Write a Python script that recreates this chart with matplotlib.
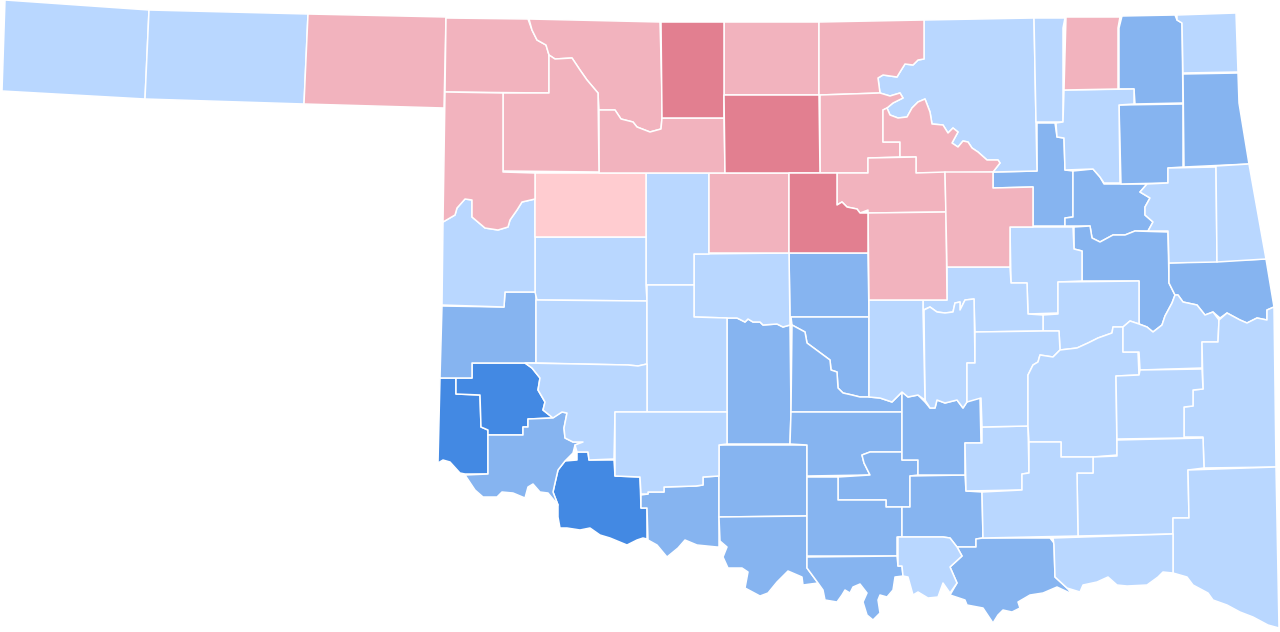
"""Oklahoma county map, shaded by margin class."""
import matplotlib
matplotlib.use("Agg")
import matplotlib.pyplot as plt
from matplotlib.patches import Polygon

# county outlines, in the picture's pixel space
OUTLINES = {
    "Cimarron": [(5,0),(149,10),(145,99),(2,91)],
    "Texas": [(149,10),(308,14),(304,104),(145,99)],
    "Beaver": [(308,14),(446,17),(444,108),(304,104)],
    "Harper": [(446,18),(528,19),(532,30),(537,40),(546,45),(549,55),(549,93),(445,92)],
    "Woods": [(529,19),(660,22),(662,95),(662,118),(661,129),(650,132),(637,127),(633,122),(621,119),(615,110),(599,110),(598,93),(587,80),(580,70),(572,58),(555,59),(549,55),(546,45),(537,40),(532,30)],
    "Alfalfa": [(661,22),(724,22),(724,95),(724,118),(662,118)],
    "Grant": [(724,22),(819,22),(819,95),(724,95)],
    "Kay": [(819,22),(924,20),(924,59),(918,60),(913,65),(905,64),(900,72),(897,77),(883,75),(878,78),(880,93),(819,95)],
    "Osage": [(924,20),(1034,18),(1036,122),(1037,171),(993,172),(1000,163),(998,160),(987,160),(978,152),(972,148),(968,142),(963,141),(958,147),(952,143),(958,132),(953,128),(948,133),(943,125),(932,124),(930,112),(925,99),(918,102),(912,108),(907,117),(898,118),(890,115),(887,108),(893,103),(903,98),(900,93),(890,96),(880,93),(878,78),(883,75),(897,77),(900,72),(905,64),(913,65),(918,60),(924,59)],
    "Noble": [(820,95),(880,93),(890,96),(900,93),(903,98),(893,103),(887,108),(883,110),(883,142),(900,142),(900,157),(868,158),(868,173),(820,173)],
    "Pawnee": [(883,110),(887,108),(890,115),(898,118),(907,117),(912,108),(918,102),(925,99),(930,112),(932,124),(943,125),(948,133),(953,128),(958,132),(952,143),(958,147),(963,141),(968,142),(972,148),(978,152),(987,160),(998,160),(1000,163),(993,172),(945,173),(916,173),(916,157),(900,157),(900,142),(883,142)],
    "Payne": [(837,173),(868,173),(868,158),(916,157),(916,173),(945,172),(946,212),(868,213),(868,210),(860,213),(857,209),(847,207),(842,202),(837,205)],
    "Logan": [(789,173),(837,173),(837,205),(842,202),(847,207),(857,209),(860,213),(868,213),(868,253),(789,253)],
    "Lincoln": [(868,213),(946,212),(947,300),(869,300)],
    "Creek": [(945,172),(993,172),(993,188),(1033,187),(1033,227),(1010,227),(1010,267),(947,267)],
    "Tulsa": [(993,172),(1037,171),(1037,123),(1055,123),(1057,137),(1064,138),(1065,170),(1073,171),(1073,217),(1065,218),(1065,226),(1033,226),(1033,187),(993,188)],
    "Washington": [(1034,18),(1065,18),(1063,28),(1063,122),(1036,122)],
    "Nowata": [(1066,17),(1120,17),(1118,28),(1118,89),(1064,90)],
    "Rogers": [(1064,90),(1134,89),(1134,104),(1119,105),(1120,183),(1104,183),(1100,177),(1093,169),(1065,170),(1064,138),(1057,137),(1056,123),(1063,122)],
    "Craig": [(1122,16),(1175,15),(1177,20),(1182,23),(1183,103),(1135,104),(1134,89),(1119,89),(1119,28)],
    "Ottawa": [(1177,15),(1236,13),(1238,72),(1183,73),(1182,23),(1177,20)],
    "Delaware": [(1183,74),(1238,73),(1239,103),(1249,164),(1184,167)],
    "Mayes": [(1119,105),(1183,104),(1183,167),(1168,168),(1168,183),(1121,184)],
    "Wagoner": [(1073,171),(1093,169),(1100,177),(1104,184),(1147,184),(1140,192),(1150,198),(1145,207),(1145,215),(1153,222),(1148,231),(1135,231),(1125,235),(1113,235),(1100,242),(1092,238),(1090,226),(1065,226),(1065,218),(1073,217)],
    "Cherokee": [(1168,168),(1216,167),(1217,262),(1169,263),(1168,231),(1148,231),(1153,222),(1145,215),(1145,207),(1150,198),(1140,192),(1147,184),(1168,183)],
    "Adair": [(1216,166),(1249,164),(1266,259),(1217,262)],
    "Sequoyah": [(1169,263),(1266,259),(1274,307),(1267,310),(1267,320),(1257,318),(1247,323),(1240,320),(1227,313),(1220,318),(1213,312),(1205,315),(1197,305),(1183,302),(1178,295),(1175,295),(1169,283)],
    "Muskogee": [(1074,227),(1090,226),(1092,238),(1100,242),(1113,235),(1125,235),(1135,231),(1168,232),(1169,283),(1175,295),(1172,303),(1165,316),(1162,325),(1153,332),(1147,327),(1139,324),(1139,281),(1082,281),(1082,251),(1074,249)],
    "Okmulgee": [(1010,227),(1073,227),(1074,249),(1082,251),(1082,281),(1058,282),(1058,313),(1028,314),(1027,283),(1011,283)],
    "McIntosh": [(1058,282),(1139,281),(1139,324),(1130,321),(1123,327),(1113,327),(1112,333),(1098,338),(1088,343),(1077,348),(1060,350),(1059,331),(1043,331),(1043,315),(1058,314)],
    "Okfuskee": [(947,267),(1010,267),(1011,283),(1027,283),(1028,314),(1043,315),(1043,331),(975,332),(974,299),(965,300),(960,310),(960,302),(955,303),(953,312),(945,313),(937,312),(930,307),(923,310),(923,300),(947,300)],
    "Seminole": [(924,310),(930,307),(937,312),(945,313),(953,312),(955,303),(960,302),(960,310),(965,300),(974,299),(975,363),(967,363),(967,402),(963,408),(957,400),(945,403),(937,400),(935,408),(930,408),(925,400)],
    "Pottawatomie": [(869,300),(923,300),(923,310),(925,400),(918,395),(908,397),(902,392),(892,402),(880,398),(869,397)],
    "Oklahoma": [(789,253),(868,253),(869,317),(790,317)],
    "Cleveland": [(791,317),(869,317),(869,397),(860,397),(852,395),(843,393),(838,388),(837,372),(831,370),(830,360),(807,343),(805,332),(792,325)],
    "McClain": [(792,325),(805,332),(807,343),(830,360),(831,370),(837,372),(838,388),(843,393),(852,395),(860,397),(869,397),(880,398),(892,402),(902,392),(902,412),(791,412)],
    "Grady": [(727,318),(737,318),(745,322),(748,319),(753,322),(760,322),(763,325),(777,324),(783,327),(790,325),(791,412),(790,444),(727,444)],
    "Canadian": [(694,254),(789,253),(790,325),(783,327),(777,324),(763,325),(760,322),(753,322),(748,319),(745,322),(737,318),(727,318),(694,317)],
    "Kingfisher": [(709,173),(789,173),(789,253),(709,253)],
    "Blaine": [(646,173),(709,173),(709,254),(694,254),(694,285),(646,285)],
    "Dewey": [(535,173),(646,173),(646,237),(535,237)],
    "Major": [(599,110),(615,110),(621,119),(633,122),(637,127),(650,132),(661,129),(662,118),(724,118),(725,173),(599,173)],
    "Garfield": [(724,95),(819,95),(820,173),(725,173)],
    "Woodward": [(503,93),(549,93),(549,55),(555,59),(572,58),(580,70),(587,80),(598,93),(599,172),(503,171)],
    "Ellis": [(445,92),(503,93),(503,172),(535,173),(535,199),(522,202),(517,210),(510,220),(508,227),(498,230),(485,228),(472,217),(472,200),(465,199),(457,208),(455,215),(443,222)],
    "Roger Mills": [(443,222),(455,215),(457,208),(465,199),(472,200),(472,217),(485,228),(498,230),(508,227),(510,220),(517,210),(522,202),(535,199),(535,292),(505,292),(504,307),(442,305)],
    "Custer": [(535,237),(646,237),(646,285),(647,301),(537,300),(535,292)],
    "Washita": [(536,300),(647,301),(647,364),(638,366),(628,365),(536,363)],
    "Caddo": [(647,285),(694,285),(694,317),(727,318),(727,412),(647,412)],
    "Kiowa": [(525,363),(628,365),(638,366),(647,364),(647,412),(615,412),(614,459),(589,460),(588,452),(577,452),(575,445),(583,442),(573,442),(565,438),(564,428),(567,413),(562,412),(553,418),(543,410),(545,402),(538,390),(540,378),(532,368)],
    "Jackson": [(488,435),(523,435),(523,427),(528,427),(528,419),(552,418),(562,412),(567,413),(564,428),(565,438),(573,442),(583,442),(575,445),(573,453),(565,461),(558,470),(555,483),(553,492),(558,505),(548,493),(540,492),(533,484),(528,487),(525,498),(513,493),(502,492),(497,497),(483,497),(475,490),(465,475),(488,474)],
    "Greer": [(472,363),(525,363),(532,368),(540,378),(538,390),(545,402),(543,410),(553,418),(528,419),(528,427),(523,427),(523,435),(488,435),(488,430),(481,427),(480,395),(456,394),(456,378),(472,378)],
    "Harmon": [(440,378),(456,378),(456,394),(480,395),(481,427),(488,430),(488,474),(465,474),(460,473),(450,462),(443,460),(438,463)],
    "Beckham": [(442,306),(504,307),(505,292),(536,292),(536,363),(472,363),(472,378),(440,378)],
    "Tillman": [(577,452),(588,452),(589,460),(614,460),(615,476),(640,477),(641,508),(647,508),(647,539),(643,538),(637,540),(627,545),(610,538),(600,535),(590,528),(580,530),(567,528),(560,528),(558,517),(558,505),(553,492),(555,483),(558,470),(565,461),(577,460)],
    "Comanche": [(615,412),(727,412),(727,444),(719,445),(719,476),(703,477),(703,485),(696,486),(664,487),(664,492),(648,492),(648,494),(641,494),(640,477),(615,476)],
    "Cotton": [(641,495),(648,494),(648,492),(664,492),(664,487),(696,486),(703,485),(703,477),(719,476),(719,517),(719,547),(717,547),(707,546),(697,545),(685,540),(678,548),(667,557),(657,545),(648,540),(647,508),(641,508)],
    "Stephens": [(719,445),(807,445),(807,516),(719,517)],
    "Jefferson": [(719,517),(807,516),(807,568),(818,583),(803,585),(802,577),(788,571),(777,582),(768,593),(760,596),(745,588),(748,572),(742,568),(728,568),(723,557),(727,547),(720,541)],
    "Garvin": [(791,412),(902,412),(902,452),(870,452),(862,455),(864,463),(870,475),(807,476),(807,445),(790,444)],
    "Murray": [(870,452),(902,452),(902,460),(918,460),(918,475),(910,476),(910,507),(886,507),(886,500),(838,500),(838,477),(870,475),(864,463),(862,455)],
    "Carter": [(807,477),(838,477),(838,500),(886,500),(886,507),(902,507),(902,537),(897,537),(897,556),(807,556)],
    "Johnston": [(910,476),(965,475),(966,491),(982,492),(983,538),(976,539),(976,547),(957,547),(950,538),(943,537),(902,537),(902,507),(910,507)],
    "Pontotoc": [(902,392),(908,397),(918,395),(925,402),(930,408),(935,408),(937,400),(945,403),(957,400),(963,408),(968,400),(980,397),(981,443),(965,443),(965,475),(918,475),(918,460),(902,460)],
    "Coal": [(965,443),(982,443),(982,427),(1028,426),(1029,473),(1022,474),(1022,490),(966,491)],
    "Hughes": [(975,332),(1043,331),(1059,331),(1060,350),(1053,357),(1040,355),(1038,362),(1033,365),(1028,375),(1028,426),(982,427),(981,398),(967,402),(967,363),(975,363)],
    "Pittsburg": [(1028,375),(1033,365),(1038,362),(1040,355),(1053,357),(1060,350),(1077,348),(1088,343),(1098,338),(1112,333),(1113,327),(1123,327),(1123,352),(1138,352),(1139,375),(1116,376),(1117,455),(1093,457),(1061,457),(1061,442),(1029,442),(1028,426)],
    "Haskell": [(1123,327),(1130,321),(1139,324),(1147,327),(1153,332),(1162,325),(1165,316),(1172,303),(1175,295),(1178,295),(1183,302),(1197,305),(1205,315),(1213,312),(1219,320),(1218,342),(1202,342),(1202,368),(1140,370),(1139,352),(1123,352)],
    "Le Flore": [(1274,307),(1276,467),(1204,468),(1203,437),(1184,437),(1184,407),(1193,406),(1193,390),(1203,389),(1202,342),(1218,342),(1219,320),(1227,313),(1240,320),(1247,323),(1257,318),(1267,320),(1267,310)],
    "Latimer": [(1140,370),(1202,369),(1203,389),(1193,390),(1193,406),(1184,407),(1184,438),(1117,439),(1116,376),(1139,375)],
    "Pushmataha": [(1117,440),(1203,438),(1204,468),(1188,470),(1189,518),(1173,518),(1173,534),(1078,536),(1077,473),(1093,473),(1093,457),(1117,456)],
    "Atoka": [(1029,442),(1061,442),(1061,457),(1093,457),(1093,473),(1077,473),(1078,536),(983,538),(982,492),(1022,490),(1022,474),(1029,473)],
    "McCurtain": [(1188,470),(1276,467),(1279,628),(1268,625),(1253,617),(1240,612),(1227,605),(1213,600),(1208,593),(1193,585),(1187,577),(1173,573),(1173,518),(1189,518)],
    "Choctaw": [(1053,538),(1173,534),(1173,573),(1163,572),(1158,577),(1147,585),(1127,586),(1117,585),(1108,577),(1097,582),(1083,585),(1080,592),(1067,588),(1055,577),(1054,545)],
    "Bryan": [(976,539),(983,538),(1050,538),(1054,543),(1055,577),(1067,588),(1072,594),(1057,587),(1043,593),(1030,595),(1018,602),(1020,608),(1012,612),(1003,610),(998,615),(993,623),(983,608),(967,605),(965,600),(950,595),(957,583),(950,567),(962,556),(957,547),(976,547)],
    "Marshall": [(898,537),(943,537),(950,538),(957,547),(962,556),(950,567),(957,583),(950,593),(943,583),(938,597),(928,598),(918,592),(913,595),(908,577),(903,576),(902,566),(898,566)],
    "Love": [(807,557),(897,556),(898,566),(902,566),(903,576),(895,577),(893,590),(887,597),(880,595),(878,600),(880,613),(873,620),(867,615),(863,602),(867,593),(860,584),(853,587),(850,593),(845,590),(842,595),(837,602),(825,600),(823,590),(818,583),(807,568)],
}

# counties per margin class
DEM_HEAVY = ["Harmon", "Greer", "Tillman"]
DEM_MID = ["Beckham", "Jackson", "Cotton", "Grady", "Oklahoma", "Cleveland", "McClain",
           "Stephens", "Jefferson", "Garvin", "Murray", "Carter", "Love", "Johnston",
           "Pontotoc", "Bryan", "Tulsa", "Wagoner", "Muskogee", "Mayes", "Craig",
           "Delaware", "Sequoyah"]
DEM_LIGHT = ["Cimarron", "Texas", "Osage", "Washington", "Rogers", "Ottawa", "Cherokee",
             "Adair", "Okmulgee", "McIntosh", "Okfuskee", "Seminole", "Pottawatomie",
             "Canadian", "Blaine", "Custer", "Roger Mills", "Washita", "Caddo", "Kiowa",
             "Comanche", "Coal", "Hughes", "Pittsburg", "Haskell", "Le Flore", "Latimer",
             "Pushmataha", "Atoka", "McCurtain", "Choctaw", "Marshall"]
REP_LIGHT = ["Dewey"]
REP_MID = ["Beaver", "Harper", "Woods", "Grant", "Kay", "Noble", "Pawnee", "Payne",
           "Lincoln", "Creek", "Nowata", "Kingfisher", "Major", "Woodward", "Ellis"]
REP_HEAVY = ["Alfalfa", "Garfield", "Logan"]

CLASS_COLOR = [
    (DEM_HEAVY, "#4389e3"),
    (DEM_MID, "#86b4f0"),
    (DEM_LIGHT, "#b9d7ff"),
    (REP_LIGHT, "#ffccd0"),
    (REP_MID, "#f2b3be"),
    (REP_HEAVY, "#e27f90"),
]

fig = plt.figure(figsize=(12.8, 6.32), dpi=100)
ax = fig.add_axes([0, 0, 1, 1])
for counties, color in CLASS_COLOR:
    for name in counties:
        ax.add_patch(Polygon(OUTLINES[name], closed=True, facecolor=color,
                             edgecolor="white", linewidth=1.1, joinstyle="round"))
ax.set_xlim(0, 1280)
ax.set_ylim(632, 0)
ax.axis("off")
fig.savefig("out.png", dpi=100, facecolor="white")
